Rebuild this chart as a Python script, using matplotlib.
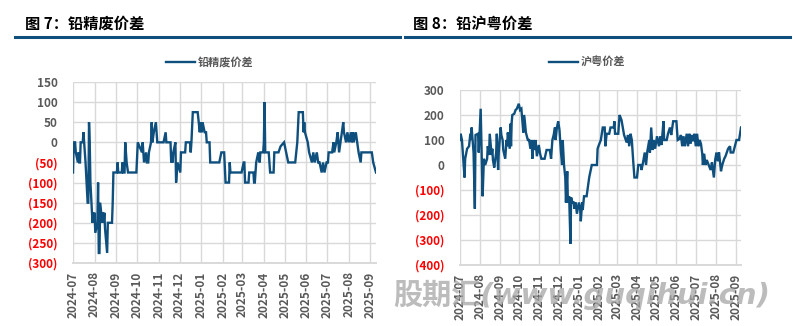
import matplotlib
matplotlib.use("Agg")
import matplotlib.pyplot as plt
import matplotlib.dates as mdates
from matplotlib.lines import Line2D
import pandas as pd

plt.rcParams["font.family"] = ["Noto Sans CJK SC", "DejaVu Sans"]
plt.rcParams["axes.unicode_minus"] = False

# 铅精废价差 (元/吨)
jfc_dates = [
    "2024-07-01", "2024-07-02", "2024-07-04", "2024-07-05", "2024-07-08", "2024-07-09",
    "2024-07-10", "2024-07-11", "2024-07-12", "2024-07-15", "2024-07-16", "2024-07-17",
    "2024-07-18", "2024-07-19", "2024-07-22", "2024-07-23", "2024-07-24", "2024-07-25",
    "2024-07-26", "2024-07-29", "2024-07-30", "2024-07-31", "2024-08-01", "2024-08-02",
    "2024-08-05", "2024-08-06", "2024-08-07", "2024-08-08", "2024-08-09", "2024-08-12",
    "2024-08-13", "2024-08-14", "2024-08-15", "2024-08-16", "2024-08-19", "2024-08-20",
    "2024-08-23", "2024-08-26", "2024-08-27", "2024-08-28", "2024-09-02", "2024-09-03",
    "2024-09-04", "2024-09-09", "2024-09-10", "2024-09-11", "2024-09-13", "2024-09-14",
    "2024-09-16", "2024-09-18", "2024-09-30", "2024-10-02", "2024-10-08", "2024-10-09",
    "2024-10-10", "2024-10-11", "2024-10-14", "2024-10-15", "2024-10-17", "2024-10-18",
    "2024-10-21", "2024-10-22", "2024-10-23", "2024-10-25", "2024-10-28", "2024-10-29",
    "2024-10-30", "2024-11-08", "2024-11-11", "2024-11-12", "2024-11-18", "2024-11-19",
    "2024-11-20", "2024-11-21", "2024-11-22", "2024-11-25", "2024-11-26", "2024-11-27",
    "2024-11-28", "2024-12-02", "2024-12-03", "2024-12-09", "2024-12-10", "2024-12-16",
    "2024-12-17", "2024-12-18", "2024-12-20", "2024-12-27", "2024-12-30", "2024-12-31",
    "2025-01-02", "2025-01-03", "2025-01-06", "2025-01-08", "2025-01-09", "2025-01-13",
    "2025-01-14", "2025-01-27", "2025-01-30", "2025-02-03", "2025-02-05", "2025-02-10",
    "2025-02-11", "2025-02-12", "2025-02-28", "2025-03-03", "2025-03-04", "2025-03-05",
    "2025-03-10", "2025-03-11", "2025-03-17", "2025-03-18", "2025-03-19", "2025-03-21",
    "2025-03-24", "2025-03-26", "2025-03-27", "2025-03-31", "2025-04-01", "2025-04-02",
    "2025-04-03", "2025-04-08", "2025-04-10", "2025-04-15", "2025-04-16", "2025-04-22",
    "2025-04-25", "2025-04-30", "2025-05-06", "2025-05-16", "2025-05-19", "2025-05-21",
    "2025-05-27", "2025-05-28", "2025-05-29", "2025-05-30", "2025-06-03", "2025-06-05",
    "2025-06-09", "2025-06-11", "2025-06-13", "2025-06-16", "2025-06-18", "2025-06-20",
    "2025-06-23", "2025-06-25", "2025-06-27", "2025-06-30", "2025-07-02", "2025-07-03",
    "2025-07-08", "2025-07-10", "2025-07-11", "2025-07-14", "2025-07-16", "2025-07-18",
    "2025-07-22", "2025-07-24", "2025-07-25", "2025-07-28", "2025-07-30", "2025-08-01",
    "2025-08-04", "2025-08-05", "2025-08-07", "2025-08-08", "2025-08-11", "2025-08-13",
    "2025-08-15", "2025-08-18", "2025-08-19", "2025-09-03", "2025-09-05", "2025-09-09",
]
jfc_vals = [
    -75, 0, 0, -25, -50, -25,
    -50, -50, 0, 0, 25, 0,
    -25, -50, -150, -150, 50, 0,
    -100, -200, -175, -200, -175, -225,
    -200, -100, -275, -275, -150, -200,
    -175, -200, -175, -215, -275, -200,
    -200, -200, -150, -75, -75, -50,
    -75, -75, -50, -75, -75, 0,
    -50, -75, -75, 0, -25, 0,
    -25, -50, -25, -50, -50, -25,
    0, 50, 0, 25, 50, 25,
    0, 0, 25, 0, 0, -50,
    -25, -50, -25, 0, -100, -75,
    -50, -75, -25, -25, 0, 0,
    -25, 0, 75, 75, 25, 50,
    25, 50, 25, 25, 0, 0,
    -50, -50, -25, -25, -100, -100,
    -50, -75, -75, -50, -50, -100,
    -100, -75, -75, -100, -100, -50,
    -25, -50, -25, -25, 0, 100,
    -25, -25, -75, -75, -25, -25,
    -10, 0, -50, -50, 0, 75,
    75, 25, 50, 25, 0, -25,
    -50, -25, -50, -25, -50, -50,
    -75, -50, -75, -50, -50, -25,
    -25, 0, -25, 0, 25, -25,
    25, 50, 25, 0, 25, 0,
    25, 0, 25, 0, 25, 0,
    -25, -50, -25, -25, -50, -75,
]

# 沪粤价差 (元/吨)
hy_dates = [
    "2024-07-01", "2024-07-02", "2024-07-04", "2024-07-08", "2024-07-09", "2024-07-12",
    "2024-07-15", "2024-07-17", "2024-07-18", "2024-07-19", "2024-07-22", "2024-07-24",
    "2024-07-25", "2024-07-29", "2024-07-30", "2024-08-02", "2024-08-05", "2024-08-07",
    "2024-08-09", "2024-08-12", "2024-08-13", "2024-08-15", "2024-08-16", "2024-08-19",
    "2024-08-20", "2024-08-21", "2024-08-23", "2024-08-26", "2024-08-27", "2024-08-29",
    "2024-08-30", "2024-09-02", "2024-09-03", "2024-09-05", "2024-09-06", "2024-09-09",
    "2024-09-11", "2024-09-12", "2024-09-13", "2024-09-16", "2024-09-17", "2024-09-18",
    "2024-09-19", "2024-09-20", "2024-09-23", "2024-09-25", "2024-09-27", "2024-09-30",
    "2024-10-02", "2024-10-04", "2024-10-05", "2024-10-07", "2024-10-08", "2024-10-09",
    "2024-10-11", "2024-10-14", "2024-10-16", "2024-10-18", "2024-10-20", "2024-10-21",
    "2024-10-23", "2024-10-25", "2024-10-26", "2024-10-28", "2024-10-31", "2024-11-02",
    "2024-11-04", "2024-11-09", "2024-11-12", "2024-11-17", "2024-11-19", "2024-11-21",
    "2024-11-23", "2024-11-25", "2024-11-26", "2024-11-28", "2024-11-30", "2024-12-02",
    "2024-12-04", "2024-12-06", "2024-12-07", "2024-12-09", "2024-12-11", "2024-12-12",
    "2024-12-14", "2024-12-15", "2024-12-17", "2024-12-19", "2024-12-20", "2024-12-22",
    "2024-12-24", "2024-12-25", "2024-12-27", "2024-12-29", "2025-01-01", "2025-01-03",
    "2025-01-04", "2025-01-06", "2025-01-07", "2025-01-09", "2025-01-13", "2025-01-17",
    "2025-01-21", "2025-01-29", "2025-01-30", "2025-02-01", "2025-02-04", "2025-02-07",
    "2025-02-10", "2025-02-11", "2025-02-13", "2025-02-17", "2025-02-19", "2025-02-24",
    "2025-02-25", "2025-02-26", "2025-03-03", "2025-03-05", "2025-03-08", "2025-03-10",
    "2025-03-12", "2025-03-16", "2025-03-18", "2025-03-20", "2025-03-22", "2025-03-24",
    "2025-03-26", "2025-03-28", "2025-04-01", "2025-04-03", "2025-04-07", "2025-04-08",
    "2025-04-10", "2025-04-13", "2025-04-15", "2025-04-17", "2025-04-20", "2025-04-21",
    "2025-04-23", "2025-04-25", "2025-04-27", "2025-04-29", "2025-05-02", "2025-05-05",
    "2025-05-07", "2025-05-09", "2025-05-12", "2025-05-13", "2025-05-17", "2025-05-19",
    "2025-05-22", "2025-05-24", "2025-05-27", "2025-06-01", "2025-06-03", "2025-06-06",
    "2025-06-08", "2025-06-10", "2025-06-12", "2025-06-14", "2025-06-17", "2025-06-19",
    "2025-06-21", "2025-06-23", "2025-06-25", "2025-06-27", "2025-06-29", "2025-07-01",
    "2025-07-03", "2025-07-05", "2025-07-07", "2025-07-09", "2025-07-11", "2025-07-12",
    "2025-07-14", "2025-07-16", "2025-07-18", "2025-07-21", "2025-07-24", "2025-07-26",
    "2025-07-29", "2025-07-31", "2025-08-02", "2025-08-04", "2025-08-06", "2025-08-09",
    "2025-08-11", "2025-08-14", "2025-08-16", "2025-08-20", "2025-08-23", "2025-08-24",
    "2025-08-28", "2025-08-31", "2025-09-02", "2025-09-06", "2025-09-09",
]
hy_vals = [
    100, 125, 100, -50, 25, 65,
    75, 125, 100, 150, 50, -175,
    120, 125, 50, 225, -125, 25,
    0, 25, 75, 40, 125, 40,
    65, 20, -10, 50, 125, -20,
    50, 150, 120, 100, 60, 25,
    100, 75, 130, 65, 165, 75,
    170, 200, 205, 220, 225, 245,
    220, 225, 195, 130, 200, 185,
    130, 100, 100, 65, 100, 25,
    100, 60, 100, 35, 80, 45,
    25, 25, 60, 60, 25, 100,
    120, 150, 100, 150, 175, 140,
    60, 0, 100, 0, -50, -150,
    -25, -150, -125, -315, -130, -150,
    -150, -175, -150, -195, -150, -175,
    -225, -150, -180, -125, -125, -50,
    0, 0, 65, 80, 100, 150,
    150, 75, 125, 125, 150, 150,
    175, 125, 125, 200, 180, 150,
    120, 90, 120, 75, 125, 100,
    20, -50, -50, 0, 0, -20,
    5, 50, 0, 55, 100, 50,
    150, 60, 100, 65, 115, 75,
    115, 80, 175, 100, 100, 125,
    150, 120, 175, 175, 100, 105,
    120, 75, 115, 75, 125, 75,
    125, 85, 120, 95, 125, 75,
    125, 75, 100, 85, 45, 0,
    45, 0, 20, 0, -20, 10,
    -50, 20, 50, 15, 50, -25,
    0, 25, 35, 65, 75, 50,
    50, 80, 100, 100, 150,
]

BLUE = "#0E4F7E"; GREY = "#595959"; RED = "#FF0000"; GRID = "#D9D9D9"
W, H = 793, 326

fig = plt.figure(figsize=(W / 100, H / 100), dpi=100)


def px(x0, y0, x1, y1):
    return [x0 / W, 1 - y1 / H, (x1 - x0) / W, (y1 - y0) / H]


def paren(v):
    return f"({abs(v)})" if v < 0 else f"{v}"


def panel(rect, dates, vals, ticks, name, leg_x):
    ax = fig.add_axes(rect)
    d = pd.to_datetime(dates)
    ax.plot(d, vals, color=BLUE, lw=1.7, label=name, solid_joinstyle="miter")
    ax.set_xlim(pd.Timestamp("2024-07-01"), d[-1])
    ax.set_ylim(ticks[0], ticks[-1])
    ax.set_yticks(ticks)
    ax.set_yticklabels([paren(t) for t in ticks], fontsize=8.5, fontweight="bold")
    for lab, t in zip(ax.get_yticklabels(), ticks):
        lab.set_color(RED if t < 0 else GREY)
    ax.xaxis.set_major_locator(mdates.MonthLocator())
    ax.xaxis.set_major_formatter(mdates.DateFormatter("%Y-%m"))
    plt.setp(ax.get_xticklabels(), rotation=90, fontsize=8.5, fontweight="bold", color=GREY)
    ax.tick_params(axis="both", length=0)
    ax.tick_params(axis="y", pad=11)
    ax.tick_params(axis="x", pad=6)
    ax.grid(True, color=GRID, lw=1.0)
    ax.set_axisbelow(True)
    for s in ["top", "right", "left"]:
        ax.spines[s].set_visible(False)
    ax.spines["bottom"].set_color(GRID)
    ax.spines["bottom"].set_linewidth(1.4)
    ax.legend(loc="center", bbox_to_anchor=(leg_x / W, 1 - 62 / H), bbox_transform=fig.transFigure,
              frameon=False, handlelength=2.6, handletextpad=0.3,
              prop={"size": 8, "weight": "bold"}, labelcolor=GREY)
    return ax


panel(px(73, 82, 376, 263), jfc_dates, jfc_vals, list(range(-300, 151, 50)), "铅精废价差", 210)
panel(px(460, 90, 741, 265), hy_dates, hy_vals, list(range(-400, 301, 100)), "沪粤价差", 587)

# headings with the rule underneath
fig.text(25 / W, 1 - 24 / H, "图 7：铅精废价差", fontsize=11, fontweight="bold", va="center", color="black")
fig.text(413 / W, 1 - 24 / H, "图 8：铅沪粤价差", fontsize=11, fontweight="bold", va="center", color="black")
fig.add_artist(Line2D([15 / W, 400 / W], [1 - 37 / H] * 2, color=BLUE, lw=2.2))
fig.add_artist(Line2D([405 / W, 790 / W], [1 - 37 / H] * 2, color=BLUE, lw=2.2))

fig.text(393 / W, 1 - 295 / H, "股期汇(www.guqihui.cn)", fontsize=21, fontweight="bold", style="italic",
         family=["DejaVu Sans", "Noto Sans CJK SC"], color="#A6A6A6", alpha=0.75,
         va="center", ha="left", zorder=10)

fig.savefig("out.png", dpi=100, facecolor="white")
